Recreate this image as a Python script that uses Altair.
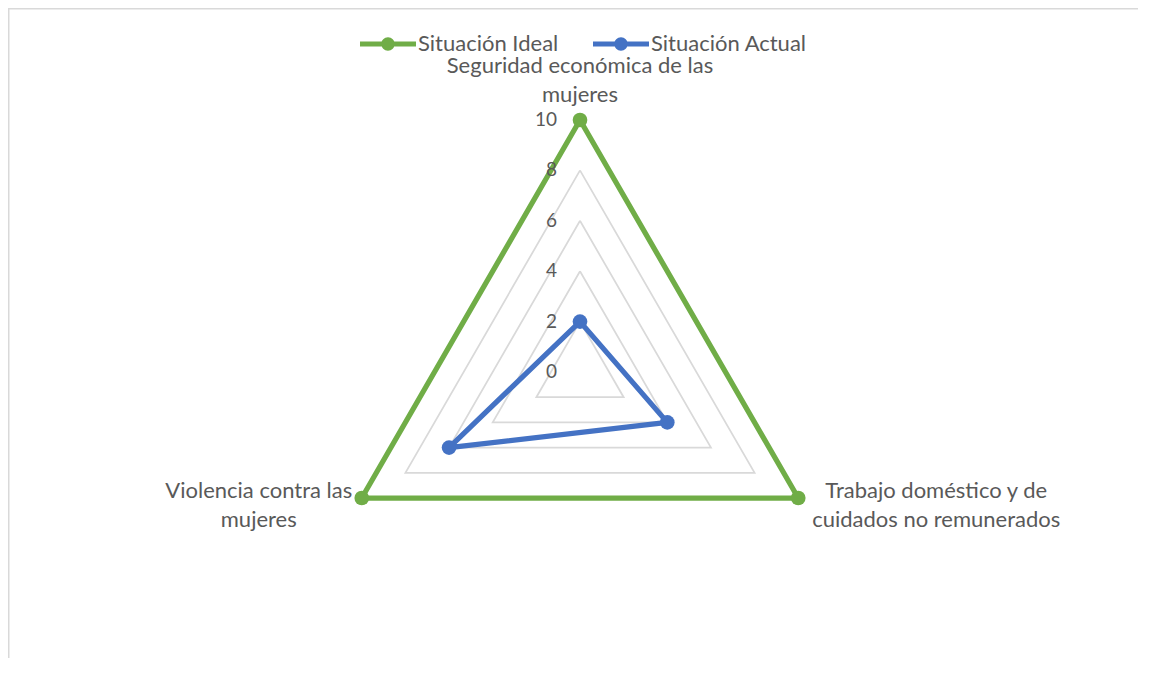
import altair as alt
import pandas as pd

# ---- data ----
categories = [
    "Seguridad económica de las\nmujeres",
    "Trabajo doméstico y de\ncuidados no remunerados",
    "Violencia contra las\nmujeres",
]
series_names = ["Situación Ideal", "Situación Actual"]
ideal = [10, 10, 10]
actual = [2, 4, 6]
grid_levels = [2, 4, 6, 8, 10]
tick_values = [0, 2, 4, 6, 8, 10]
colors = ["#70AD47", "#4472C4"]

# ---- layout ----
W, H = 1130, 650
cx, cy = 572, 364      # centre of the radar in plot pixels
k = 25.2               # pixels per unit
xdom = [-cx / k, (W - cx) / k]
ydom = [-(H - cy) / k, cy / k]
FONT = "Lato"
TXT = "#595959"
GRID = "#D9D9D9"
FS = 22
FS_TICK = 19

n = len(categories)

rows = []
for name, vals in zip(series_names, [ideal, actual]):
    for i in range(n + 1):
        rows.append({"series": name, "idx": i % n, "order": i, "value": vals[i % n]})
series_df = pd.DataFrame(rows)

grows = []
for lv in grid_levels:
    for i in range(n + 1):
        grows.append({"level": lv, "idx": i % n, "order": i, "value": lv})
grid_df = pd.DataFrame(grows)

tick_df = pd.DataFrame({"value": tick_values, "idx": [0] * len(tick_values),
                        "label": [str(v) for v in tick_values]})
cat_df = pd.DataFrame({"idx": list(range(n)), "label": categories, "value": [10] * n})

xs = alt.Scale(domain=xdom, nice=False, zero=False)
ys = alt.Scale(domain=ydom, nice=False, zero=False)
X = alt.X("x:Q", scale=xs, axis=None)
Y = alt.Y("y:Q", scale=ys, axis=None)


def polar(ch):
    return ch.transform_calculate(
        ang="PI/2 - datum.idx*2*PI/" + str(n)
    ).transform_calculate(
        x="datum.value*cos(datum.ang)", y="datum.value*sin(datum.ang)"
    )


sym = ("M-1,-0.085 L1,-0.085 L1,0.085 L-1,0.085 Z "
       "M-0.24,0 A0.24,0.24 0 1,1 0.24,0 A0.24,0.24 0 1,1 -0.24,0 Z")

leg = alt.Legend(title=None, orient="none", legendX=352, legendY=8,
                 direction="horizontal", symbolType=sym,
                 symbolSize=3136, symbolStrokeWidth=0,
                 labelFont=FONT, labelFontSize=FS, labelColor=TXT,
                 labelOffset=2, columnPadding=34, padding=0)
cscale = alt.Scale(domain=series_names, range=colors)

border_df = pd.DataFrame({"a": [0]})
border_top = alt.Chart(border_df).mark_rule(color=GRID, strokeWidth=1.5).encode(
    x=alt.value(0), x2=alt.value(W), y=alt.value(0.75))
border_left = alt.Chart(border_df).mark_rule(color=GRID, strokeWidth=1.5).encode(
    x=alt.value(0.75), y=alt.value(0), y2=alt.value(H))

grid = polar(alt.Chart(grid_df)).mark_line(color=GRID, strokeWidth=1.75).encode(
    x=X, y=Y, detail="level:N", order="order:Q")

points = polar(alt.Chart(series_df)).transform_filter("datum.order < " + str(n)).mark_circle(
    size=215, opacity=1).encode(
    x=X, y=Y, color=alt.Color("series:N", scale=cscale, legend=leg))

lines = polar(alt.Chart(series_df)).mark_line(strokeWidth=5.25, strokeJoin="round").encode(
    x=X, y=Y, color=alt.Color("series:N", scale=cscale, legend=leg),
    order="order:Q",
)

ticks = polar(alt.Chart(tick_df)).mark_text(
    align="right", baseline="middle", dx=-23, font=FONT, fontSize=FS_TICK, color=TXT).encode(
    x=X, y=Y, text="label:N")


def cat_label(i, dx, dy):
    return polar(alt.Chart(cat_df)).transform_filter("datum.idx == " + str(i)).mark_text(
        align="center", baseline="middle", dx=dx, dy=dy, lineBreak="\n", lineHeight=29,
        font=FONT, fontSize=FS, color=TXT).encode(x=X, y=Y, text="label:N")


chart = alt.layer(
    border_top, border_left, grid, lines, points, ticks,
    cat_label(0, 0, -54), cat_label(1, 138, -7), cat_label(2, -103, -7),
).properties(
    width=W, height=H, padding=0, autosize=alt.AutoSizeParams(type="none")
).configure_view(stroke=None)

chart.save("out.html", embed_options={"renderer": "svg", "actions": False})
